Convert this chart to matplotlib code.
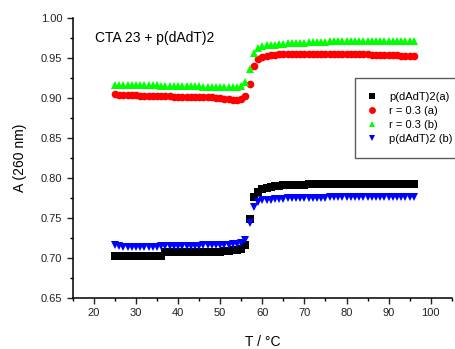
import matplotlib.pyplot as plt
from matplotlib.ticker import MultipleLocator

plt.rcParams['font.family'] = ['Liberation Sans', 'DejaVu Sans']

# temperature grid (1 degree steps, 25..96 C)
temp = list(range(25, 97))

dadt_a = ([0.703] * 12 + [0.708] * 14 + [0.709, 0.709, 0.710, 0.710, 0.711]
          + [0.716, 0.749, 0.776, 0.783, 0.786, 0.788, 0.789, 0.790, 0.790, 0.791]
          + [0.791] * 5 + [0.792] * 5 + [0.793] * 21)
r03_a = ([0.905] + [0.904] * 5 + [0.903] * 8 + [0.902] * 6 + [0.901] * 4
         + [0.900] * 2 + [0.899] * 2 + [0.898] * 2 + [0.899]
         + [0.903, 0.918, 0.940, 0.949, 0.952, 0.953, 0.954, 0.954, 0.955, 0.955]
         + [0.955] * 20 + [0.954] * 7 + [0.953] * 4)
r03_b = ([0.917] + [0.916] * 10 + [0.915] * 10 + [0.914] * 9 + [0.915]
         + [0.920, 0.937, 0.957, 0.963, 0.965, 0.966, 0.967, 0.967, 0.968, 0.968]
         + [0.969] * 5 + [0.970] * 5 + [0.971] * 21)
dadt_b = ([0.716, 0.715] + [0.714] * 9 + [0.715] * 10 + [0.716] * 7
          + [0.717, 0.717, 0.719]
          + [0.722, 0.744, 0.764, 0.770, 0.772, 0.773, 0.773, 0.774, 0.774, 0.774]
          + [0.775] * 10 + [0.776] * 21)

series = [
    (dadt_a, 's', '#000000', 'p(dAdT)2(a)'),
    (r03_a, 'o', '#ff0000', 'r = 0.3 (a)'),
    (r03_b, '^', '#00ff00', 'r = 0.3 (b)'),
    (dadt_b, 'v', '#0000ff', 'p(dAdT)2 (b)'),
]

fig = plt.figure(figsize=(4.55, 3.49), dpi=100)
ax = fig.add_axes([0.160, 0.146, 0.833, 0.802])

for vals, mk, col, lab in series:
    ax.plot(temp, vals, linestyle='none', marker=mk, color=col,
            markersize=5.5, markeredgewidth=0, label=lab)

ax.set_xlim(15, 105)
ax.set_ylim(0.65, 1.00)
ax.xaxis.set_major_locator(MultipleLocator(10))
ax.xaxis.set_minor_locator(MultipleLocator(5))
ax.yaxis.set_major_locator(MultipleLocator(0.05))
ax.yaxis.set_minor_locator(MultipleLocator(0.025))
ax.yaxis.set_major_formatter(plt.FormatStrFormatter('%.2f'))
ax.tick_params(which='major', direction='out', length=4, width=1,
               labelsize=8, colors='#222222')
ax.tick_params(which='minor', direction='out', length=2.5, width=1)
ax.spines['top'].set_visible(False)
ax.spines['right'].set_visible(False)
for s in ('left', 'bottom'):
    ax.spines[s].set_linewidth(1.1)

ax.set_xlabel('T / \u00b0C', fontsize=10, labelpad=12)
ax.set_ylabel('A (260 nm)', fontsize=10, labelpad=10)
ax.text(20.3, 0.975, 'CTA 23 + p(dAdT)2', fontsize=10, va='center')

leg = fig.legend(loc='upper left', bbox_to_anchor=(0.780, 0.777),
                 borderaxespad=0, fontsize=8, frameon=True, fancybox=False,
                 borderpad=1.3, handletextpad=1.2, labelspacing=0.35,
                 handlelength=0.55, markerscale=0.9)
leg.get_frame().set_edgecolor('#333333')
leg.get_frame().set_linewidth(1.0)

fig.savefig('out.png', dpi=100)
